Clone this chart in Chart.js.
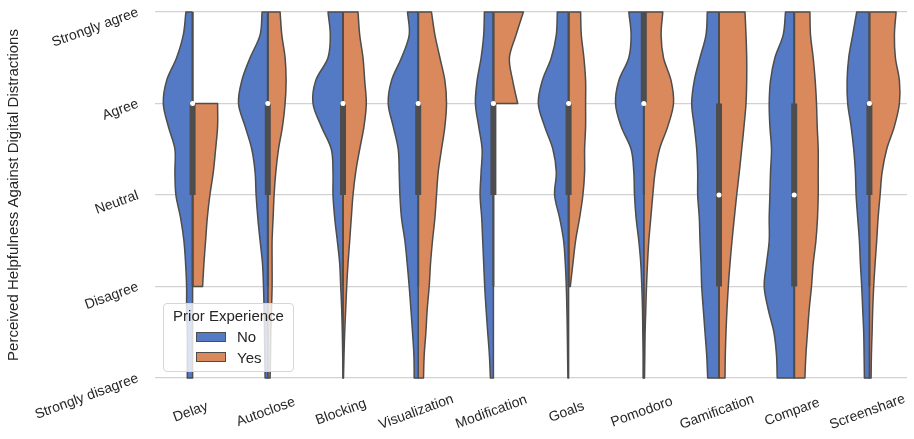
<!DOCTYPE html>
<html>
<head>
<meta charset="utf-8">
<script src="https://cdn.jsdelivr.net/npm/chart.js@4.4.1/dist/chart.umd.min.js"></script>
<style>
  body { margin: 0; background: #fff; font-family: "Liberation Sans", Arial, sans-serif; }
  #wrap { position: relative; width: 914px; height: 439px; }
  #legend {
    position: absolute; left: 163px; top: 303px; width: 129px; height: 67px;
    border: 1px solid #d6d6d6; border-radius: 4px; background: rgba(255, 255, 255, 0.8);
    color: #262626; font-size: 15px;
  }
  #legend .title { position: absolute; left: 0; right: 0; top: 3px; text-align: center; }
  #legend .patch { position: absolute; left: 32px; width: 30px; height: 10px; box-sizing: border-box; border: 1px solid #4d4d4d; }
  #legend .txt { position: absolute; left: 73px; }
</style>
</head>
<body>
<div id="wrap">
  <canvas id="violinChart"></canvas>
  <div id="legend">
    <div class="title">Prior Experience</div>
    <div class="patch" id="patch-no" style="top: 28px;"></div>
    <div class="txt" style="top: 24px;">No</div>
    <div class="patch" id="patch-yes" style="top: 48px;"></div>
    <div class="txt" style="top: 45px;">Yes</div>
  </div>
</div>
<script>
const categories = ['Delay', 'Autoclose', 'Blocking', 'Visualization', 'Modification',
  'Goals', 'Pomodoro', 'Gamification', 'Compare', 'Screenshare'];
const levelLabels = ['Strongly disagree', 'Disagree', 'Neutral', 'Agree', 'Strongly agree'];

// answer levels where the violin widths were read (5 = Strongly agree)
const levels = [5, 4.75, 4.5, 4.25, 4, 3.75, 3.5, 3.25, 3, 2.75, 2.5, 2.25, 2, 1.75, 1.5, 1.25, 1];

// half widths of the "No" (left) halves
const noDensity = [
  [6.7, 9.3, 16, 26, 29.3, 24.3, 17.7, 17.7, 16.7, 12, 8.7, 7, 6, 6, 5.3, 5.3, 5.3],
  [5.7, 7.7, 17.7, 26, 29.3, 22.7, 16, 12.7, 11.7, 10, 7.7, 5.3, 4.3, 3.7, 3.3, 3, 2.7],
  [15, 12.7, 15, 27.3, 30, 21.7, 11.7, 10, 10, 8.3, 5.7, 3.3, 2.3, 1.3, 0.7, 0.3, 0],
  [10.7, 9, 16.7, 26.7, 30, 25, 20, 19, 18.3, 16.7, 13.3, 11, 9, 7.3, 5.7, 4.3, 4],
  [9, 9.7, 12.3, 16.3, 18, 14.7, 11.3, 12.3, 13.3, 11.7, 10.7, 9.7, 8.7, 7.3, 5.7, 4, 3],
  [11.3, 12.3, 17.3, 26.3, 30.3, 24, 15.7, 12.3, 14, 9, 5, 3.3, 2.3, 1.7, 1.3, 1, 0.7],
  [15, 12.7, 15, 25, 28.3, 22.7, 12.7, 10, 9.3, 7.7, 5, 3, 2, 1.3, 1, 0.7, 0.7],
  [11.7, 13, 19, 24.7, 27.3, 24.7, 22.3, 21.3, 21.3, 19.7, 19, 18, 17.3, 15.7, 14, 12.3, 11.3],
  [8.7, 11, 19.3, 23.7, 25, 24.3, 22.7, 23.7, 24.3, 25, 25, 27.7, 30, 26, 20.3, 17.7, 17],
  [12.7, 16.7, 20.7, 22.3, 21.7, 18.3, 15.7, 14, 13.3, 11.7, 10, 9, 7.7, 6.7, 5.7, 5.3, 5]
];

// half widths of the "Yes" (right) halves, null where there were no answers
const yesDensity = [
  [null, null, null, null, 25, 25, 23, 20.7, 17.3, 14.7, 13, 11.3, 10, null, null, null, null],
  [12.3, 14, 17.3, 18.3, 17.3, 14.7, 10.7, 8, 6.3, 5.3, 4.3, 4.3, 4.3, 3.7, 3, 2.7, 2.3],
  [15, 16.7, 20, 21.7, 23.3, 21, 16.7, 12.7, 10, 8.3, 6.7, 5, 3.7, 2.7, 1.7, 1, 0.5],
  [13.3, 16.7, 21.7, 26.7, 28.3, 26.7, 23.3, 20, 18.3, 16.7, 14.3, 12.3, 11, 9, 7.7, 6, 5.3],
  [30, 22.7, 16, 19.3, 24.3, null, null, null, null, null, null, null, null, null, null, null, null],
  [12, 12.7, 15.3, 17, 17, 17, 16, 16, 14.3, 11, 7, 4.3, 1.7, null, null, null, null],
  [19, 17.3, 19.7, 27.3, 29.7, 24, 15.7, 11.3, 9, 7, 5, 3.7, 2.7, 2, 1.3, 1, 0.7],
  [26, 27, 27.7, 27.7, 27, 25, 22.7, 20.3, 17.7, 15.3, 13, 11, 9.3, 8, 7, 6.3, 6],
  [15.7, 16.3, 19, 21, 22.3, 23, 24, 24, 24, 23.3, 21.7, 19, 17.3, 15, 13.3, 11.7, 10.7],
  [26.7, 25, 26, 30, 30, 25, 17.3, 12.7, 10.7, 8.7, 7.3, 5.7, 4.3, 3.3, 2.7, 2, 1.7]
];

// inner box: quartiles, median and whiskers
const quartileLow = [3, 3, 3, 3, 3, 3, 4, 2, 2, 3];
const quartileHigh = [4, 4, 4, 4, 4, 4, 5, 4, 4, 4];
const medians = [4, 4, 4, 4, 4, 4, 4, 3, 3, 4];
const whiskerLow = [2, 2, 2, 2, 2, 2, 3, 1, 1, 2];
const whiskerHigh = [5, 5, 5, 5, 5, 5, 5, 5, 5, 5];

const DENSITY_SCALE = 1 / 75.2;
const BLUE = '#5479c5';
const ORANGE = '#da895d';
const GRAY = '#4d4d4d';
const TEXT = '#262626';
const FONT = '"Liberation Sans", Arial, sans-serif';

document.getElementById('patch-no').style.background = BLUE;
document.getElementById('patch-yes').style.background = ORANGE;

// outline of one half: centre -> edge down -> centre, corners doubled so they stay sharp
function halfViolin(center, widths, side) {
  const edge = [];
  widths.forEach((w, i) => {
    if (w !== null) edge.push({ x: center + side * w * DENSITY_SCALE, y: levels[i] });
  });
  const first = edge[0];
  const last = edge[edge.length - 1];
  const top = { x: center, y: first.y };
  const bottom = { x: center, y: last.y };
  return [top, first, ...edge, last, bottom, bottom, top];
}

const violinStyle = {
  showLine: true, fill: 'shape', tension: 0.35, pointRadius: 0, clip: 3,
  borderWidth: 1.5, borderColor: GRAY, borderJoinStyle: 'round', order: 3
};

const datasets = [];
categories.forEach((name, i) => {
  datasets.push({ ...violinStyle, label: name + ' No', data: halfViolin(i, noDensity[i], -1), backgroundColor: BLUE });
  datasets.push({ ...violinStyle, label: name + ' Yes', data: halfViolin(i, yesDensity[i], 1), backgroundColor: ORANGE });
  datasets.push({
    label: name + ' whisker', showLine: true, pointRadius: 0, borderWidth: 2, borderColor: GRAY, order: 2,
    data: [{ x: i, y: whiskerLow[i] }, { x: i, y: whiskerHigh[i] }]
  });
  datasets.push({
    label: name + ' box', showLine: true, pointRadius: 0, borderWidth: 6, borderColor: GRAY, order: 1,
    data: [{ x: i, y: quartileLow[i] }, { x: i, y: quartileHigh[i] }]
  });
});
datasets.push({
  label: 'median', showLine: false, pointRadius: 2.5, pointBorderWidth: 0,
  pointBackgroundColor: '#ffffff', order: 0,
  data: medians.map((m, i) => ({ x: i, y: m }))
});

// matplotlib style rotated labels, centred under each violin
const categoryLabels = {
  id: 'categoryLabels',
  afterDraw(chart) {
    const { ctx, chartArea } = chart;
    const xScale = chart.scales.x;
    ctx.save();
    ctx.font = '14px ' + FONT;
    ctx.fillStyle = TEXT;
    ctx.textAlign = 'center';
    ctx.textBaseline = 'middle';
    categories.forEach((name, i) => {
      ctx.save();
      ctx.translate(xScale.getPixelForValue(i) - 2, chartArea.bottom + 34);
      ctx.rotate(-20 * Math.PI / 180);
      ctx.fillText(name, 0, 0);
      ctx.restore();
    });
    ctx.restore();
  }
};

new Chart(document.getElementById('violinChart'), {
  type: 'scatter',
  data: { datasets },
  plugins: [categoryLabels],
  options: {
    responsive: true, maintainAspectRatio: false, animation: false, events: [],
    layout: { padding: { top: 12, right: 7, left: 0, bottom: 0 } },
    plugins: { legend: { display: false }, tooltip: { enabled: false } },
    scales: {
      x: {
        type: 'linear', min: -0.5, max: 9.5,
        grid: { display: false }, border: { display: false },
        ticks: { display: false },
        afterFit: (scale) => { scale.height = 61; scale.paddingLeft = 0; scale.paddingRight = 0; }
      },
      y: {
        type: 'linear', min: 1, max: 5,
        grid: { color: '#d2d2d2', lineWidth: 1.2, drawTicks: false },
        border: { display: false },
        ticks: {
          stepSize: 1, padding: 17, minRotation: 20, maxRotation: 20,
          color: TEXT, font: { size: 14, family: FONT },
          callback: (v) => levelLabels[v - 1]
        },
        title: {
          display: true, text: 'Perceived Helpfulness Against Digital Distractions',
          color: TEXT, font: { size: 15, family: FONT }, padding: { top: 5, bottom: 0 }
        },
        afterFit: (scale) => { scale.width = 155; scale.paddingTop = 0; scale.paddingBottom = 0; }
      }
    }
  }
});
</script>
</body>
</html>
